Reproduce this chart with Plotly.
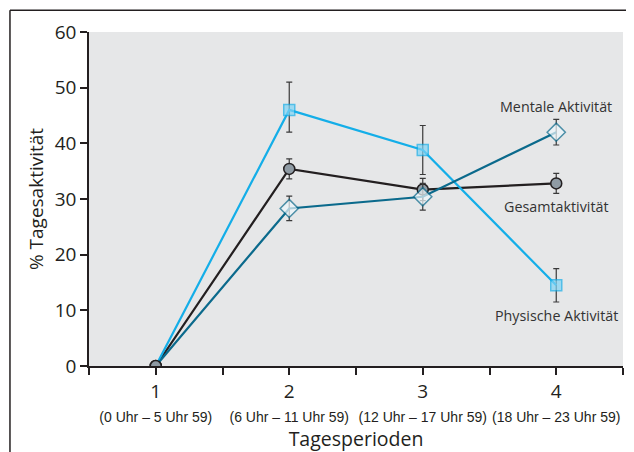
import plotly.graph_objects as go

periods = [1, 2, 3, 4]
period_labels = ["(0 Uhr – 5 Uhr 59)", "(6 Uhr – 11 Uhr 59)", "(12 Uhr – 17 Uhr 59)", "(18 Uhr – 23 Uhr 59)"]

gesamt = [0, 35.4, 31.7, 32.8]
gesamt_err = [0, 1.8, 2.0, 1.8]

physisch = [0, 46.0, 38.8, 14.5]
physisch_err_plus = [0, 5.0, 4.4, 3.0]
physisch_err_minus = [0, 4.0, 4.4, 3.0]

mental = [0, 28.3, 30.4, 42.0]
mental_err = [0, 2.2, 2.4, 2.3]

series_names = ["Gesamtaktivität", "Physische Aktivität", "Mentale Aktivität"]

FONT = "Open Sans"
BLACK = "#231f20"
LIGHT = "#14aee8"
TEAL = "#0b6a8c"
ERR = "#3a3a3a"

fig = go.Figure()

fig.add_trace(go.Scatter(
    x=periods, y=gesamt, mode="lines+markers", name=series_names[0],
    line=dict(color=BLACK, width=2.2),
    marker=dict(symbol="circle", size=11, color="#8f9ba4", line=dict(color=BLACK, width=1.5)),
    error_y=dict(type="data", array=gesamt_err, color=ERR, thickness=1.2, width=3),
))
fig.add_trace(go.Scatter(
    x=periods, y=physisch, mode="lines+markers", name=series_names[1],
    line=dict(color=LIGHT, width=2.2),
    marker=dict(symbol="square", size=[0, 11, 11, 11], color="#7fd4f5", line=dict(color=LIGHT, width=1.5)),
    error_y=dict(type="data", symmetric=False, array=physisch_err_plus, arrayminus=physisch_err_minus,
                 color=ERR, thickness=1.2, width=3),
))
fig.add_trace(go.Scatter(
    x=periods, y=mental, mode="lines+markers", name=series_names[2],
    line=dict(color=TEAL, width=2.2),
    marker=dict(symbol="diamond", size=[0, 14, 14, 14], color="#eef8fc", line=dict(color=TEAL, width=1.5)),
    error_y=dict(type="data", array=mental_err, color=ERR, thickness=1.2, width=3),
))
# common starting point drawn on top
fig.add_trace(go.Scatter(
    x=periods[:1], y=gesamt[:1], mode="markers",
    marker=dict(symbol="circle", size=11, color="#8f9ba4", line=dict(color=BLACK, width=1.5)),
))

label_y = [mental[3] + 4.7, gesamt[3] - 4.2, physisch[3] - 5.4]
label_names = [series_names[2], series_names[0], series_names[1]]
for name, ly in zip(label_names, label_y):
    fig.add_annotation(x=periods[3], y=ly, text=name, showarrow=False,
                       font=dict(family=FONT, size=14.3, color="#333333"))

tickvals = []
ticktext = []
for p, lab in zip(periods, period_labels):
    tickvals += [p - 0.5, p]
    ticktext += ["", f'{p}<br><span style="font-size:14px;font-family:Liberation Sans">{lab}</span>']
tickvals.append(periods[-1] + 0.5)
ticktext.append("")

fig.update_layout(
    width=626, height=444,
    margin=dict(l=81, r=11, t=23, b=83),
    paper_bgcolor="white", plot_bgcolor="#e6e7e8",
    showlegend=False,
    font=dict(family=FONT, color="#231f20"),
    xaxis=dict(range=[0.5, 4.5], tickvals=tickvals, ticktext=ticktext,
               ticks="outside", ticklen=7, tickwidth=1.5, tickcolor=BLACK,
               showline=True, linecolor=BLACK, linewidth=1.5, showgrid=False, zeroline=False,
               tickfont=dict(size=19, family=FONT),
               title=dict(text="Tagesperioden", font=dict(size=19.5, family=FONT), standoff=2)),
    yaxis=dict(range=[0, 60], tickvals=[0, 10, 20, 30, 40, 50, 60],
               ticks="outside", ticklen=7, tickwidth=1.5, tickcolor=BLACK,
               showline=True, linecolor=BLACK, linewidth=1.5, showgrid=False, zeroline=False,
               tickfont=dict(size=19, family=FONT),
               title=dict(text="% Tagesaktivität", font=dict(size=19, family=FONT), standoff=6)),
)

# frame lines (top and left) of the cropped figure
fig.add_shape(type="line", xref="paper", yref="paper", x0=-0.148, x1=1.03, y0=1.065, y1=1.065,
              line=dict(color=BLACK, width=1.5))
fig.add_shape(type="line", xref="paper", yref="paper", x0=-0.148, x1=-0.148, y0=1.065, y1=-0.26,
              line=dict(color=BLACK, width=1.5))

fig.write_html("out.html")
